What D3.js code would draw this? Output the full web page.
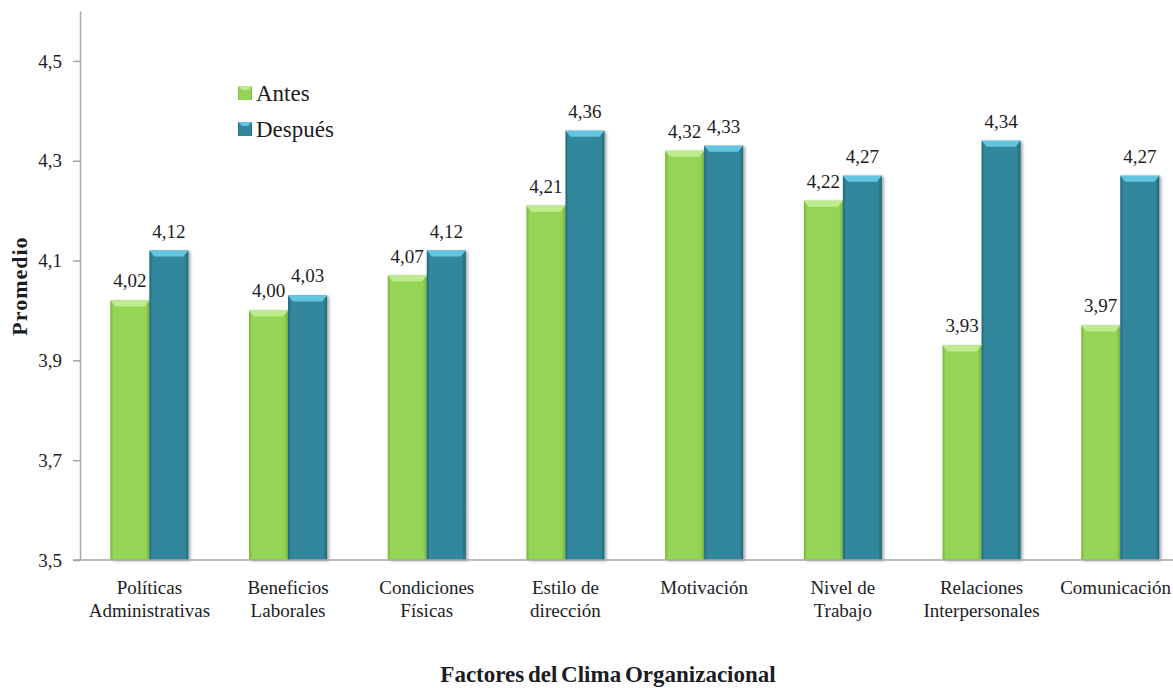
<!DOCTYPE html>
<html>
<head>
<meta charset="utf-8">
<title>Factores del Clima Organizacional</title>
<style>
  body { margin: 0; background: #fff; }
  svg { display: block; }
  text { font-family: "Liberation Serif", "Times New Roman", serif; fill: #1c1c24; }
</style>
</head>
<body>
<div class="chart-container"></div>
<script src="https://cdn.jsdelivr.net/npm/d3@7"></script>
<script>
    var categories = [
        ['Políticas', 'Administrativas'],
        ['Beneficios', 'Laborales'],
        ['Condiciones', 'Físicas'],
        ['Estilo de', 'dirección'],
        ['Motivación'],
        ['Nivel de', 'Trabajo'],
        ['Relaciones', 'Interpersonales'],
        ['Comunicación']
    ];
    var seriesNames = ['Antes', 'Después'];
    var antes = [4.02, 4.00, 4.07, 4.21, 4.32, 4.22, 3.93, 3.97];
    var despues = [4.12, 4.03, 4.12, 4.36, 4.33, 4.27, 4.34, 4.27];
    var yTicks = [3.5, 3.7, 3.9, 4.1, 4.3, 4.5];

    var width = 1173, height = 688;
    var axisX = 80, baseY = 560;

    // colours: body, light top bevel, dark edge
    var palette = {
        'Antes':   { body: '#95d556', top: '#bdeb8e', edge: '#76b23c' },
        'Después': { body: '#32879d', top: '#62c6e0', edge: '#23657a' }
    };

    var keys = categories.map(function (c) { return c.join(' '); });

    var x = d3.scaleBand()
            .domain(keys)
            .range([axisX, axisX + 8 * 138.7])
            .paddingInner(0.4375)
            .paddingOuter(0.21875);

    var xs = d3.scaleBand()
            .domain(seriesNames)
            .range([0, x.bandwidth()]);

    var y = d3.scaleLinear()
            .domain([3.5, 4.6])
            .range([baseY, 11]);

    var svg = d3.select('.chart-container').append('svg')
            .attr('width', width)
            .attr('height', height);

    var defs = svg.append('defs');
    seriesNames.forEach(function (s, i) {
        var g = defs.append('linearGradient')
                .attr('id', 'grad' + i)
                .attr('x1', 0).attr('x2', 1).attr('y1', 0).attr('y2', 0);
        g.append('stop').attr('offset', '0%').attr('stop-color', palette[s].edge);
        g.append('stop').attr('offset', '8%').attr('stop-color', palette[s].body);
        g.append('stop').attr('offset', '90%').attr('stop-color', palette[s].body);
        g.append('stop').attr('offset', '100%').attr('stop-color', palette[s].edge);
    });
    var shadow = defs.append('filter').attr('id', 'shadow')
            .attr('x', '-20%').attr('y', '-5%').attr('width', '150%').attr('height', '110%');
    shadow.append('feGaussianBlur').attr('in', 'SourceAlpha').attr('stdDeviation', 1.5);
    shadow.append('feOffset').attr('dx', 2).attr('dy', 1).attr('result', 'b');
    shadow.append('feComponentTransfer').append('feFuncA').attr('type', 'linear').attr('slope', 0.35);
    var merge = shadow.append('feMerge');
    merge.append('feMergeNode');
    merge.append('feMergeNode').attr('in', 'SourceGraphic');

    // y axis
    var yAxis = d3.axisLeft(y)
            .tickValues(yTicks)
            .tickSize(7)
            .tickSizeOuter(0)
            .tickPadding(11)
            .tickFormat(function (d) { return d.toFixed(1).replace('.', ','); });

    var gy = svg.append('g')
            .attr('transform', 'translate(' + axisX + ',0)')
            .call(yAxis);
    gy.select('.domain').attr('stroke', '#a6a6a6').attr('stroke-width', 1.5);
    gy.selectAll('.tick line').attr('stroke', '#a6a6a6').attr('stroke-width', 1.5);
    gy.selectAll('.tick text')
            .attr('font-family', '"Liberation Serif", serif')
            .attr('font-size', 19)
            .attr('fill', '#1c1c24');

    // bars
    var data = [];
    keys.forEach(function (k, i) {
        data.push({ cat: k, series: 'Antes', value: antes[i], si: 0 });
        data.push({ cat: k, series: 'Después', value: despues[i], si: 1 });
    });

    var bars = svg.append('g').attr('class', 'bars')
            .selectAll('g')
            .data(data)
            .join('g')
            .attr('filter', 'url(#shadow)');

    bars.each(function (d) {
        var g = d3.select(this);
        var bx = x(d.cat) + xs(d.series);
        var bw = xs.bandwidth();
        var by = y(d.value);
        var bh = baseY - by;
        var bev = 6, side = 5;
        g.append('rect')
                .attr('x', bx).attr('y', by)
                .attr('width', bw).attr('height', bh)
                .attr('fill', 'url(#grad' + d.si + ')');
        g.append('path')
                .attr('d', 'M' + bx + ',' + by + 'L' + (bx + bw) + ',' + by +
                        'L' + (bx + bw - side) + ',' + (by + bev) +
                        'L' + (bx + side) + ',' + (by + bev) + 'Z')
                .attr('fill', palette[d.series].top);
    });

    // x axis baseline
    svg.append('line')
            .attr('x1', axisX - 7).attr('x2', width)
            .attr('y1', baseY).attr('y2', baseY)
            .attr('stroke', '#a6a6a6').attr('stroke-width', 1.5);

    // value labels
    svg.append('g').selectAll('text')
            .data(data)
            .join('text')
            .attr('x', function (d) { return x(d.cat) + xs(d.series) + xs.bandwidth() / 2; })
            .attr('y', function (d) { return y(d.value) - 13; })
            .attr('text-anchor', 'middle')
            .attr('font-size', 19)
            .text(function (d) { return d.value.toFixed(2).replace('.', ','); });

    // category labels
    var cl = svg.append('g').selectAll('text')
            .data(categories)
            .join('text')
            .attr('text-anchor', 'middle')
            .attr('font-size', 19)
            .attr('transform', function (d, i) {
                return 'translate(' + (x(keys[i]) + x.bandwidth() / 2) + ',594)';
            });
    cl.selectAll('tspan')
            .data(function (d) { return d; })
            .join('tspan')
            .attr('x', 0)
            .attr('dy', function (d, i) { return i === 0 ? 0 : 23; })
            .text(function (d) { return d; });

    // keep the last label inside the picture
    cl.each(function (d, i) {
        var cx = x(keys[i]) + x.bandwidth() / 2;
        var w = this.getComputedTextLength();
        if (cx + w / 2 > width - 2) {
            d3.select(this).attr('transform', 'translate(' + (width - 2 - w / 2) + ',594)');
        }
    });

    // axis titles
    svg.append('text')
            .attr('transform', 'translate(27,286) rotate(-90)')
            .attr('text-anchor', 'middle')
            .attr('font-size', 22)
            .attr('font-weight', 'bold')
            .attr('letter-spacing', 1)
            .text('Promedio');

    svg.append('text')
            .attr('x', 608)
            .attr('y', 682)
            .attr('text-anchor', 'middle')
            .attr('font-size', 23)
            .attr('font-weight', 'bold')
            .attr('word-spacing', -2)
            .text('Factores del Clima Organizacional');

    // legend
    var legend = svg.append('g')
            .attr('transform', 'translate(238,86)');
    var li = legend.selectAll('g')
            .data(seriesNames)
            .join('g')
            .attr('transform', function (d, i) { return 'translate(0,' + (i * 36) + ')'; });
    li.append('rect')
            .attr('width', 14).attr('height', 14)
            .attr('fill', function (d, i) { return 'url(#grad' + i + ')'; });
    li.append('path')
            .attr('d', 'M0,0L14,0L10,4L4,4Z')
            .attr('fill', function (d) { return palette[d].top; });
    li.append('text')
            .attr('x', 18)
            .attr('y', 15)
            .attr('font-size', 23)
            .text(function (d) { return d; });
</script>
</body>
</html>
